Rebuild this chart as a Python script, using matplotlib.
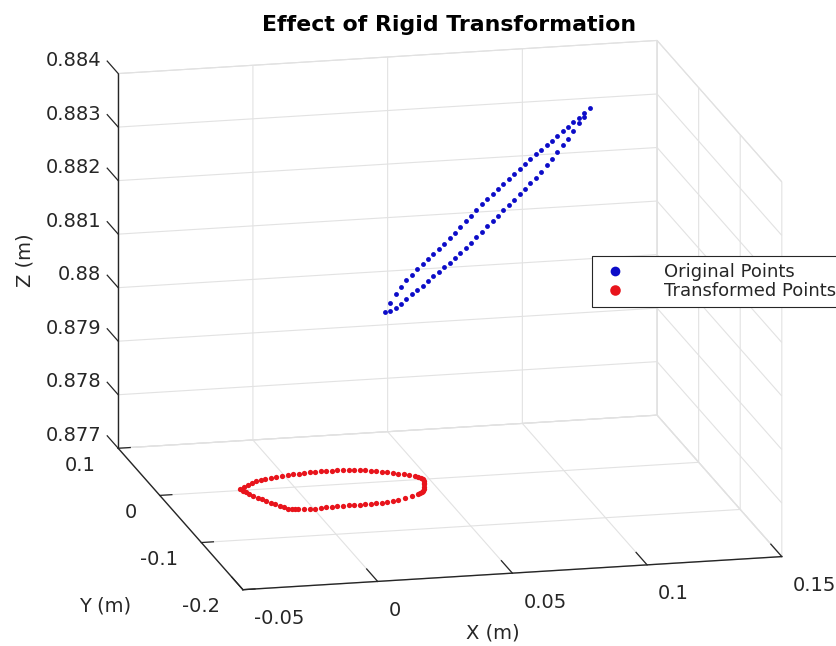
import numpy as np
import matplotlib.pyplot as plt
from mpl_toolkits.mplot3d import proj3d

plt.rcParams['font.family'] = ['DejaVu Sans']

# Original points (blue)
orig_x = [0.032, 0.034, 0.036, 0.038, 0.040, 0.042, 0.044, 0.046, 0.048, 0.050,
          0.052, 0.054, 0.056, 0.058, 0.060, 0.062, 0.064, 0.066, 0.068, 0.070,
          0.072, 0.074, 0.076, 0.078, 0.080, 0.082, 0.084, 0.086, 0.088, 0.090,
          0.092, 0.094, 0.096, 0.098, 0.100, 0.102, 0.104, 0.106, 0.108,
          0.106, 0.104, 0.102, 0.100, 0.098, 0.096, 0.094, 0.092, 0.090, 0.088,
          0.086, 0.084, 0.082, 0.080, 0.078, 0.076, 0.074, 0.072, 0.070, 0.068,
          0.066, 0.064, 0.062, 0.060, 0.058, 0.056, 0.054, 0.052, 0.050, 0.048,
          0.046, 0.044, 0.042, 0.040, 0.038, 0.036, 0.034]
orig_y = [-0.010] * len(orig_x)
orig_z = [0.88026, 0.88042, 0.88058, 0.88071, 0.88083, 0.88092, 0.88102, 0.88111,
          0.88120, 0.88129, 0.88138, 0.88147, 0.88157, 0.88166, 0.88176, 0.88186,
          0.88196, 0.88206, 0.88216, 0.88226, 0.88234, 0.88243, 0.88252, 0.88261,
          0.88269, 0.88278, 0.88286, 0.88295, 0.88303, 0.88311, 0.88319, 0.88327,
          0.88335, 0.88343, 0.88351, 0.88359, 0.88367, 0.88375, 0.88383,
          0.88368, 0.88356, 0.88342, 0.88329, 0.88317, 0.88305, 0.88293, 0.88282,
          0.88270, 0.88260, 0.88250, 0.88240, 0.88231, 0.88221, 0.88211, 0.88203,
          0.88193, 0.88184, 0.88175, 0.88165, 0.88155, 0.88146, 0.88137, 0.88128,
          0.88119, 0.88111, 0.88103, 0.88095, 0.88087, 0.88079, 0.88071, 0.88063,
          0.88056, 0.88048, 0.88040, 0.88032, 0.88027]

# Transformed points (red)
trans_x = [-0.0200, -0.0179, -0.0159, -0.0138, -0.0118, -0.0099, -0.0079, -0.0056,
           -0.0033, -0.0010, 0.0012, 0.0033, 0.0055, 0.0076, 0.0098, 0.0119,
           0.0140, 0.0160, 0.0181, 0.0201, 0.0221, 0.0241, 0.0260, 0.0280,
           0.0299, 0.0317, 0.0336, 0.0354, 0.0371, 0.0389, 0.0406, 0.0423,
           0.0439, 0.0456, 0.0463, 0.0471, 0.0478, 0.0473, 0.0469, 0.0464,
           0.0456, 0.0447, 0.0439, 0.0430, 0.0421, 0.0412, 0.0383, 0.0353,
           0.0324, 0.0302, 0.0279, 0.0257, 0.0236, 0.0214, 0.0193, 0.0173,
           0.0152, 0.0132, 0.0111, 0.0090, 0.0069, 0.0047, 0.0026, 0.0004,
           -0.0016, -0.0037, -0.0057, -0.0068, -0.0079, -0.0090, -0.0101, -0.0112,
           -0.0123, -0.0133, -0.0144, -0.0154, -0.0164, -0.0174, -0.0184, -0.0189,
           -0.0195]
trans_y = [0.0009, 0.0049, 0.0089, 0.0129, 0.0150, 0.0172, 0.0193, 0.0208,
           0.0223, 0.0238, 0.0245, 0.0252, 0.0258, 0.0262, 0.0267, 0.0271,
           0.0273, 0.0275, 0.0277, 0.0272, 0.0267, 0.0262, 0.0255, 0.0249,
           0.0242, 0.0226, 0.0211, 0.0195, 0.0175, 0.0154, 0.0134, 0.0109,
           0.0085, 0.0060, 0.0039, 0.0018, -0.0003, -0.0041, -0.0080, -0.0118,
           -0.0162, -0.0207, -0.0251, -0.0271, -0.0291, -0.0311, -0.0341, -0.0371,
           -0.0401, -0.0412, -0.0422, -0.0433, -0.0437, -0.0442, -0.0446, -0.0446,
           -0.0446, -0.0446, -0.0448, -0.0449, -0.0451, -0.0458, -0.0464, -0.0471,
           -0.0469, -0.0466, -0.0464, -0.0455, -0.0447, -0.0438, -0.0404, -0.0369,
           -0.0335, -0.0296, -0.0258, -0.0219, -0.0175, -0.0132, -0.0088, -0.0056,
           -0.0023]
trans_z = [0.87701] * len(trans_x)

x_ticks = [-0.05, 0, 0.05, 0.1, 0.15]
x_labels = ['-0.05', '0', '0.05', '0.1', '0.15']
y_ticks = [-0.2, -0.1, 0, 0.1]
y_labels = ['-0.2', '-0.1', '0', '0.1']
z_ticks = [0.877, 0.878, 0.879, 0.880, 0.881, 0.882, 0.883, 0.884]
z_labels = ['0.877', '0.878', '0.879', '0.88', '0.881', '0.882', '0.883', '0.884']

W, H = 836, 646
dark = '#262626'
fig = plt.figure(figsize=(W / 100, H / 100), dpi=100)
ax = fig.add_axes([0, 0, 1, 1], projection='3d', proj_type='ortho')

l1, = ax.plot(orig_x, orig_y, orig_z, linestyle='none', marker='o',
              markersize=3.5, markeredgewidth=0, color='#0c0cc8')
l2, = ax.plot(trans_x, trans_y, trans_z, linestyle='none', marker='o',
              markersize=3.8, markeredgewidth=0, color='#e8141c')

ax.set_xlim(-0.05, 0.15)
ax.set_ylim(-0.2, 0.1)
ax.set_zlim(0.877, 0.884)
ax.set_xticks(x_ticks, [''] * len(x_ticks))
ax.set_yticks(y_ticks, [''] * len(y_ticks))
ax.set_zticks(z_ticks, [''] * len(z_ticks))
ax.view_init(elev=15.3, azim=-103.1)
ax.set_box_aspect((554, 551, 389))

for axis, out in ((ax.xaxis, 1.1), (ax.yaxis, 0.28), (ax.zaxis, 1.1)):
    axis.set_pane_color((1, 1, 1, 1))
    axis.pane.set_edgecolor('#dedede')
    axis.pane.set_linewidth(0.8)
    axis.line.set_color(dark)
    axis.line.set_linewidth(1.0)
    axis._axinfo['grid'].update(color='#e2e2e2', linewidth=0.8)
    axis._axinfo['tick'].update(inward_factor=0.0, outward_factor=out,
                                linewidth={True: 0.9, False: 0.5})
    axis.set_tick_params(colors=dark)

# MATLAB draws the z ticks along the y direction
ax.zaxis._get_tickdir = lambda *args, **kw: 1

# fit the box onto the reference layout
fig.canvas.draw()
corners = [(-0.05, -0.2, 0.877), (0.15, 0.1, 0.884),
           (-0.05, 0.1, 0.877), (0.15, -0.2, 0.877)]
targets = np.array([(241, H - 590), (658, H - 40), (120, H - 448), (781, H - 557)], float)


def to_px(p):
    xs, ys, _ = proj3d.proj_transform(p[0], p[1], p[2], ax.M)
    return ax.transData.transform((float(xs), float(ys)))


src = np.array([to_px(c) for c in corners])
bb = ax.get_position()
org = np.array([bb.x0 * W, bb.y0 * H])
side = bb.width * W
a = (src - org) / side
A = a - a.mean(0)
D = targets - targets.mean(0)
S = (A * D).sum() / (A * A).sum()
O = targets.mean(0) - S * a.mean(0)
ax.set_position([O[0] / W, O[1] / H, S / W, S / H])
fig.canvas.draw()

# tick labels placed next to the projected tick positions
tick_fs = 14
for v, s in zip(z_ticks, z_labels):
    px, py = to_px((-0.05, 0.1, v))
    fig.text((px - 17) / W, (py + 13) / H, s, ha='right', va='center',
             fontsize=tick_fs, color=dark)
for v, s in zip(y_ticks, y_labels):
    px, py = to_px((-0.05, v, 0.877))
    fig.text((px - 23) / W, (py - 17) / H, s, ha='right', va='center',
             fontsize=tick_fs, color=dark)
for v, s in zip(x_ticks, x_labels):
    px, py = to_px((v, -0.2, 0.877))
    fig.text((px + 11) / W, (py - 29) / H, s, ha='left', va='center',
             fontsize=tick_fs, color=dark)

fig.text(449.5 / W, 1 - 25 / H, 'Effect of Rigid Transformation', ha='center',
         va='center', fontsize=15.8, fontweight='bold', color='black')
fig.text(493 / W, 1 - 633 / H, 'X (m)', ha='center', va='center', fontsize=14, color=dark)
fig.text(105 / W, 1 - 606 / H, 'Y (m)', ha='center', va='center', fontsize=14, color=dark)
fig.text(25 / W, 1 - 260 / H, 'Z (m)', ha='center', va='center', fontsize=14,
         rotation=90, color=dark)

leg = fig.legend([l1, l2], ['Original Points', 'Transformed Points'], loc='upper left',
                 bbox_to_anchor=(592 / W, 1 - 256 / H), borderaxespad=0, frameon=True,
                 fancybox=False, edgecolor=dark, framealpha=1, fontsize=13,
                 handlelength=1.7, handletextpad=1.9, borderpad=0.4, labelspacing=0.05,
                 markerscale=2.0)
leg.get_frame().set_linewidth(0.8)
for t in leg.get_texts():
    t.set_color(dark)

fig.savefig('out.png', dpi=100)
